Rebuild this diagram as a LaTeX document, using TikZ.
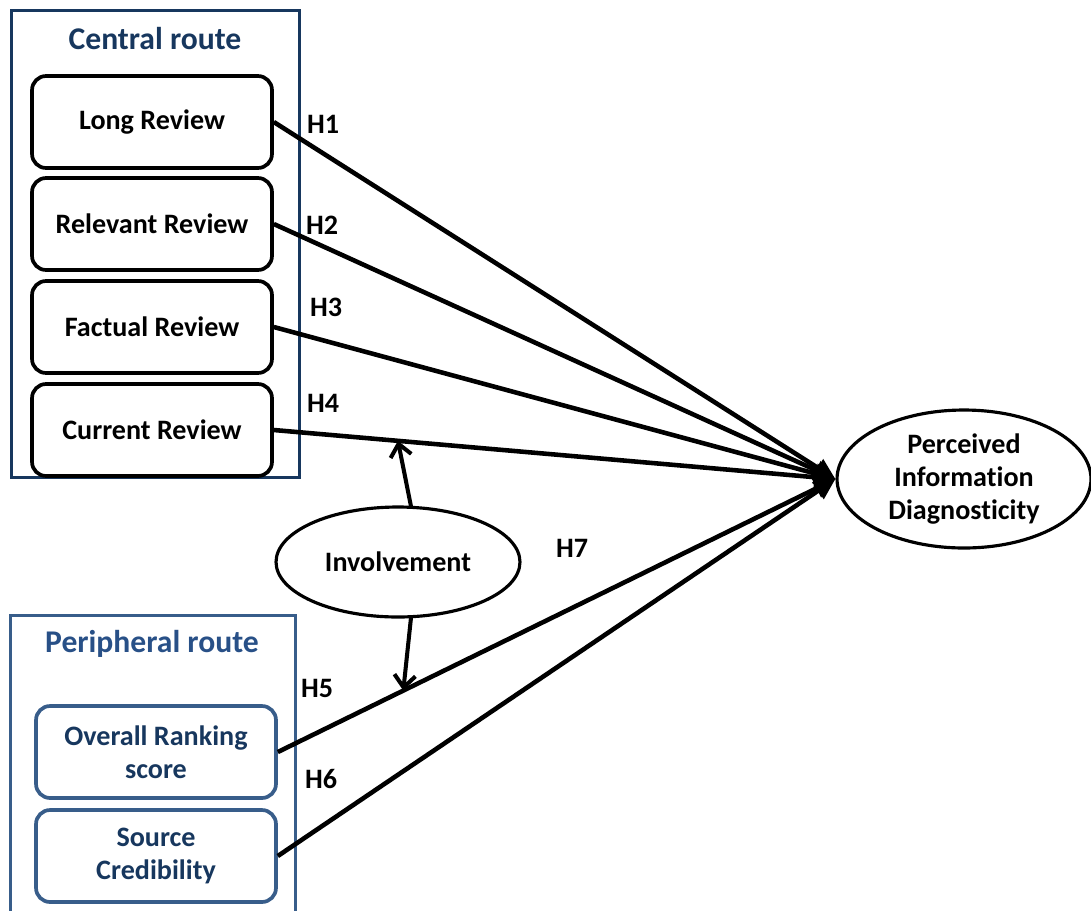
\documentclass[tikz,border=0pt]{standalone}
\usepackage{fontspec}
\setmainfont{Carlito}[Ligatures={NoCommon,NoContextual}]
\usepackage{xcolor}
\usepackage{tikz}
\usetikzlibrary{shapes, arrows.meta, positioning, calc}

\definecolor{centralblue}{RGB}{23,55,94}
\definecolor{periphblue}{RGB}{56,93,138}
\definecolor{periphtext}{RGB}{40,80,135}

\begin{document}
\begin{tikzpicture}[x=0.02cm, y=-0.02cm,
    routebox/.style={draw, line width=1.7pt, inner sep=0pt},
    routetitle/.style={font=\fontsize{18}{22}\selectfont\bfseries},
    review/.style={draw, rectangle, rounded corners=8pt, line width=2.1pt, minimum width=4.8cm, minimum height=1.84cm, align=center, font=\fontsize{16}{19}\selectfont\bfseries},
    construct/.style={draw, ellipse, line width=1.8pt, inner sep=0pt, align=center, font=\fontsize{16}{19}\selectfont\bfseries},
    hyp/.style={font=\fontsize{16}{19}\selectfont\bfseries},
    path/.style={line width=2.6pt, -{Triangle[length=12pt, width=11pt]}},
    moder/.style={line width=2.3pt, -{Straight Barb[length=7pt, width=12pt]}}]

\useasboundingbox (0,0) rectangle (1091,910);

% routes
\node[routebox, draw=centralblue, minimum width=5.78cm, minimum height=9.36cm] (central) at (155.5,244) {};
\node[routetitle, text=centralblue] (ctitle) at (155,39) {Central route};
\node[routebox, draw=periphblue, minimum width=5.72cm, minimum height=6.2cm] (periph) at (153,770) {};
\node[routetitle, text=periphtext] (ptitle) at (152,644) {Peripheral route};

% central cues
\node[review] (long) at (152,122) {\raisebox{-2pt}{Long Review}};
\node[review] (relevant) at (152,224) {\raisebox{-2pt}{Relevant Review}};
\node[review] (factual) at (152,327) {\raisebox{-2pt}{Factual Review}};
\node[review] (current) at (152,430) {\raisebox{-2pt}{Current Review}};

% peripheral cues
\node[review, draw=periphblue, text=centralblue] (overall) at (156,752) {Overall Ranking\\score};
\node[review, draw=periphblue, text=centralblue] (source) at (156,856) {Source\\Credibility};

% constructs
\node[construct, minimum width=5.08cm, minimum height=2.76cm] (pid) at (964,479) {Perceived\\Information\\Diagnosticity};
\node[construct, minimum width=4.88cm, minimum height=2.2cm] (inv) at (398,562) {Involvement};

% hypotheses
\draw[path] (long.east) -- (pid.west);
\draw[path] (relevant.east) -- (pid.west);
\draw[path] (factual.east) -- (pid.west);
\draw[path] (current.east) -- (pid.west);
\draw[path] (overall.east) -- (pid.west);
\draw[path] (source.east) -- (pid.west);

\coordinate (m4) at ($(current.east)!0.221!(pid.west)$);
\coordinate (m5) at ($(overall.east)!0.225!(pid.west)$);
\draw[moder] ($(inv.north)+(13,1)$) -- (m4);
\draw[moder] ($(inv.south)+(13,-1)$) -- (m5);

\node[hyp] (h1) at (323,124) {H1};
\node[hyp] (h2) at (322,225) {H2};
\node[hyp] (h3) at (326,307) {H3};
\node[hyp] (h4) at (323,403) {H4};
\node[hyp] (h5) at (317,688) {H5};
\node[hyp] (h6) at (321,779) {H6};
\node[hyp] (h7) at (572,548) {H7};

\end{tikzpicture}
\end{document}
